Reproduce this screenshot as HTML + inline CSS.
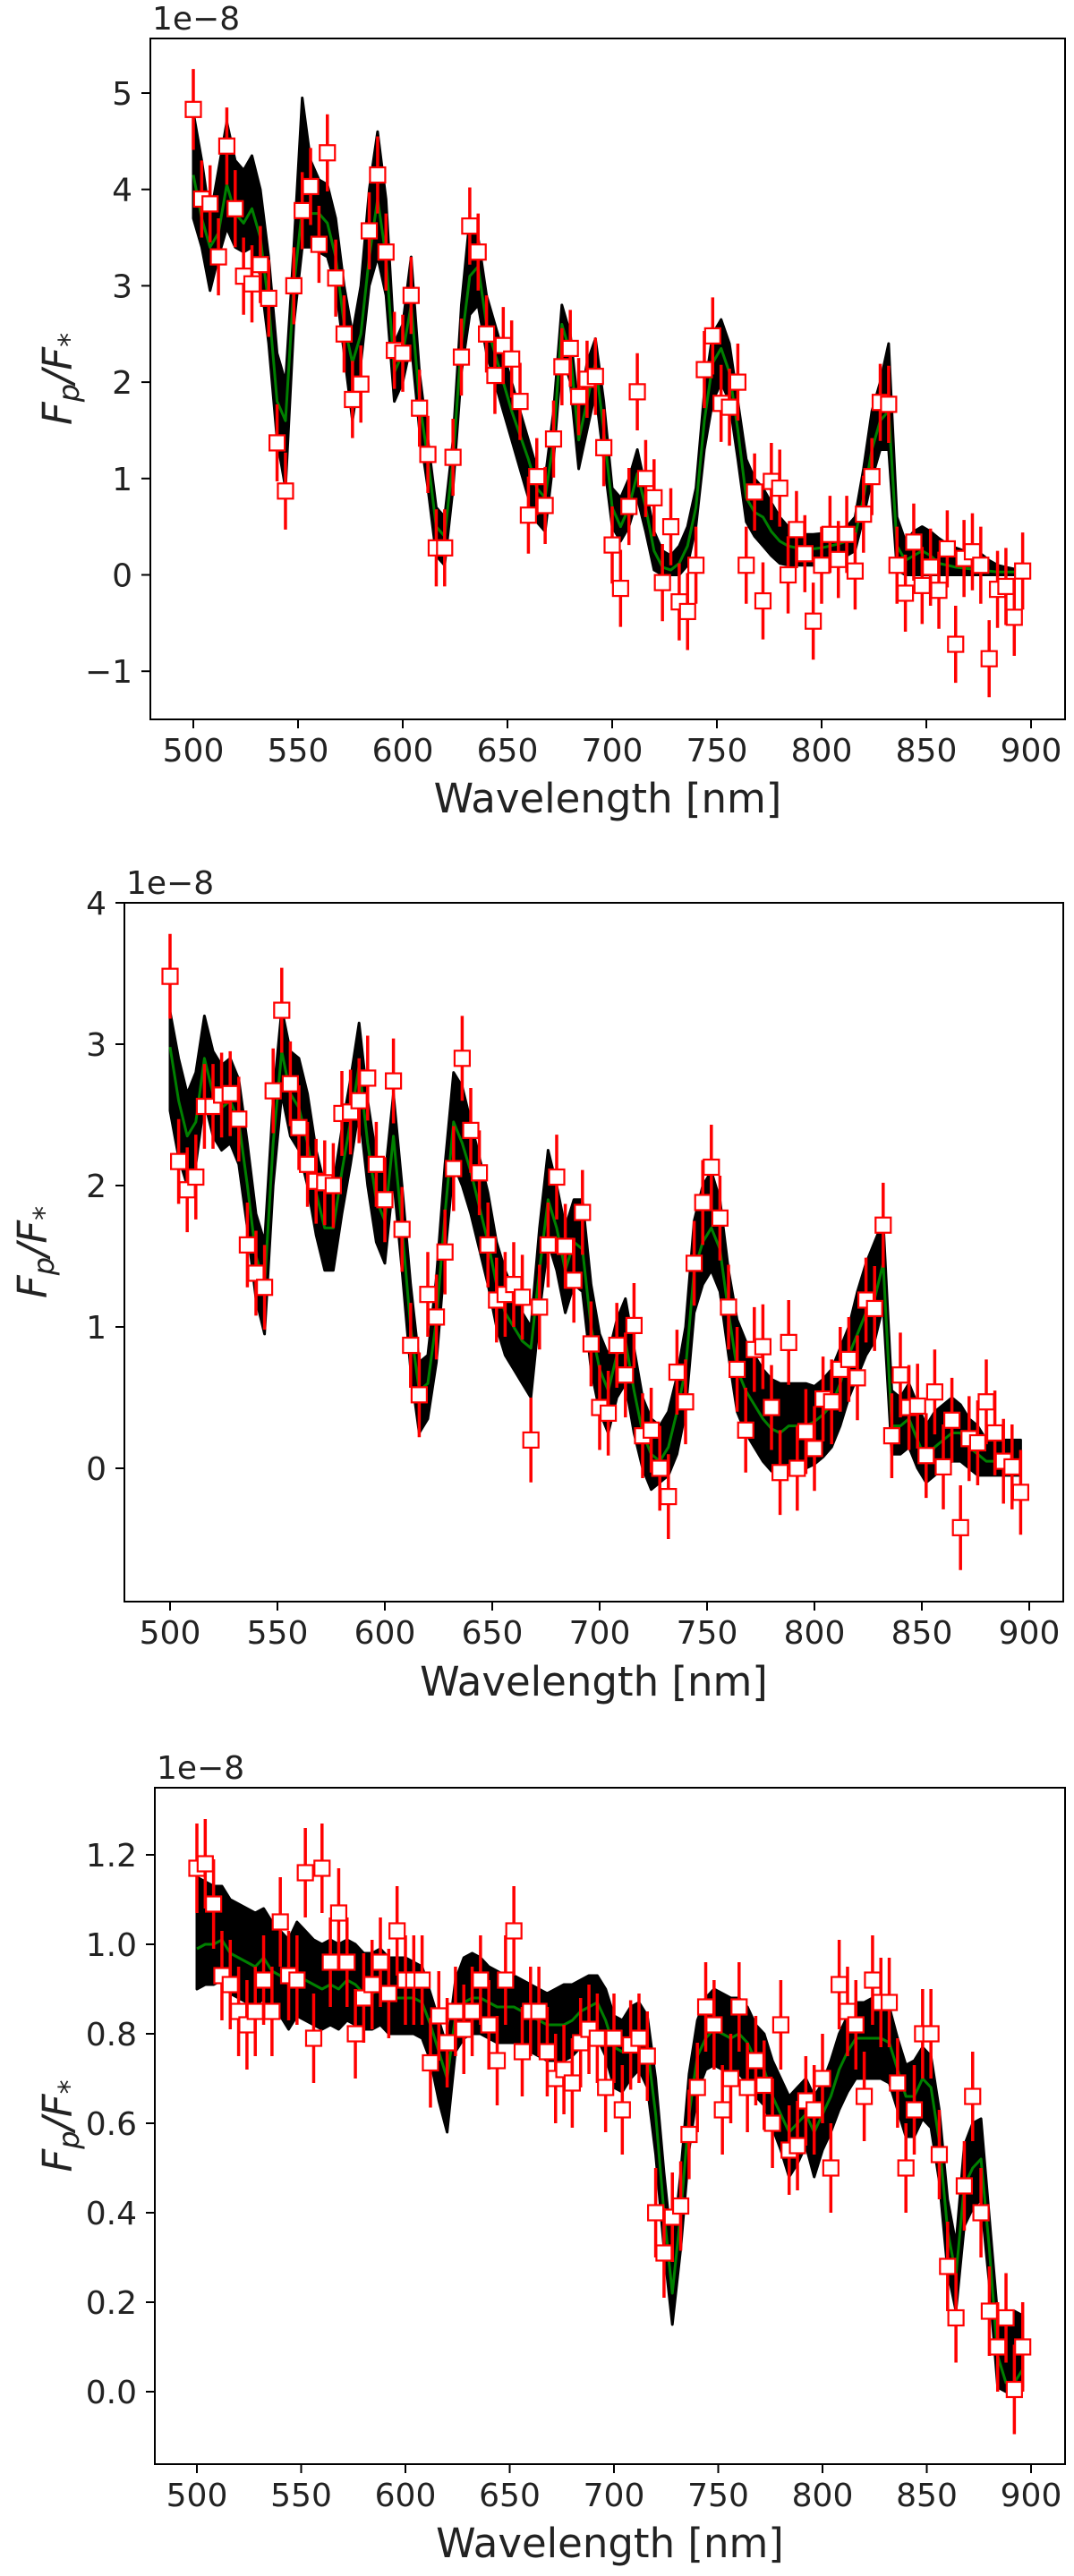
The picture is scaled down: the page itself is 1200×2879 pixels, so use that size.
<!DOCTYPE html>
<html><head><meta charset="utf-8"><title>Fp/F* spectra</title>
<style>
html,body{margin:0;padding:0;background:#fff;}
svg{display:block;font-family:"DejaVu Sans","Liberation Sans",sans-serif;}
</style></head>
<body>
<svg id="fig" width="1200" height="2879" viewBox="0 0 1200 2879" xmlns="http://www.w3.org/2000/svg"></svg>
<script>
const wl=[500,504,508,512,516,520,524,528,532,536,540,544,548,552,556,560,564,568,572,576,580,584,588,592,596,600,604,608,612,616,620,624,628,632,636,640,644,648,652,656,660,664,668,672,676,680,684,688,692,696,700,704,708,712,716,720,724,728,732,736,740,744,748,752,756,760,764,768,772,776,780,784,788,792,796,800,804,808,812,816,820,824,828,832,836,840,844,848,852,856,860,864,868,872,876,880,884,888,892,896];
const xTicks=[500,550,600,650,700,750,800,850,900];

// ---------- panel 1 ----------
const p1Flux=[4.83,3.9,3.85,3.3,4.45,3.8,3.1,3.02,3.22,2.87,1.37,0.87,3.0,3.78,4.03,3.43,4.38,3.08,2.5,1.82,1.98,3.57,4.15,3.35,2.33,2.3,2.9,1.73,1.25,0.28,0.28,1.22,2.26,3.62,3.35,2.5,2.07,2.38,2.24,1.8,0.62,1.02,0.72,1.41,2.16,2.35,1.85,2.03,2.06,1.32,0.31,-0.14,0.71,1.9,1.0,0.8,-0.08,0.5,-0.28,-0.38,0.1,2.13,2.48,1.78,1.74,2.0,0.1,0.86,-0.27,0.97,0.9,0.0,0.47,0.22,-0.48,0.1,0.42,0.16,0.42,0.04,0.63,1.02,1.79,1.77,0.1,-0.19,0.34,-0.11,0.08,-0.16,0.27,-0.72,0.17,0.24,0.1,-0.87,-0.15,-0.12,-0.44,0.04];
const p1Err=[0.42,0.4,0.4,0.4,0.4,0.4,0.4,0.4,0.4,0.4,0.4,0.4,0.4,0.4,0.4,0.4,0.4,0.4,0.4,0.4,0.4,0.4,0.4,0.4,0.4,0.4,0.4,0.4,0.4,0.4,0.4,0.4,0.4,0.4,0.4,0.4,0.4,0.4,0.4,0.4,0.4,0.4,0.4,0.4,0.4,0.4,0.4,0.4,0.4,0.4,0.4,0.4,0.4,0.4,0.4,0.4,0.4,0.4,0.4,0.4,0.4,0.4,0.4,0.4,0.4,0.4,0.4,0.4,0.4,0.4,0.4,0.4,0.4,0.4,0.4,0.4,0.4,0.4,0.4,0.4,0.4,0.4,0.4,0.4,0.4,0.4,0.4,0.4,0.4,0.4,0.4,0.4,0.4,0.4,0.4,0.4,0.4,0.4,0.4,0.4];
const p1Med=[4.15,3.7,3.4,3.55,4.05,3.75,3.65,3.8,3.5,2.8,1.8,1.6,3.0,3.8,3.75,3.75,3.65,3.3,2.6,2.2,2.5,3.3,3.9,3.3,2.1,2.3,2.8,1.8,1.2,0.5,0.4,1.2,2.4,3.1,3.2,2.6,2.3,2.0,1.7,1.45,1.2,0.9,0.8,1.4,2.6,2.3,1.4,1.8,2.2,1.5,0.7,0.5,0.7,1.05,0.7,0.25,0.08,0.05,0.12,0.3,0.7,1.6,2.2,2.35,2.1,1.5,0.8,0.65,0.6,0.45,0.35,0.3,0.28,0.27,0.27,0.28,0.3,0.32,0.35,0.4,0.8,1.3,1.6,1.7,0.3,0.15,0.2,0.25,0.2,0.12,0.1,0.08,0.07,0.06,0.05,0.04,0.03,0.03,0.03,0.03];
const p1Hi=[4.8,4.3,3.7,4.2,4.7,4.3,4.2,4.35,4.0,3.3,2.3,2.0,3.4,4.95,4.3,4.1,4.05,3.7,3.0,2.5,3.0,4.0,4.6,3.9,2.4,2.6,3.3,2.1,1.4,0.7,0.6,1.4,2.8,3.7,3.5,2.9,2.6,2.3,2.0,1.7,1.4,1.1,1.0,1.7,2.8,2.5,1.7,2.2,2.45,1.8,0.9,0.8,1.0,1.3,0.9,0.45,0.25,0.2,0.3,0.5,0.9,1.9,2.5,2.65,2.4,1.8,1.2,1.0,0.9,0.75,0.6,0.5,0.45,0.42,0.42,0.43,0.45,0.48,0.5,0.6,1.1,1.7,2.0,2.4,0.6,0.35,0.45,0.5,0.45,0.38,0.32,0.28,0.25,0.25,0.22,0.15,0.1,0.08,0.06,0.05];
const p1Lo=[3.7,3.4,2.95,3.3,3.6,3.4,3.35,3.4,3.1,2.4,1.4,0.9,2.6,3.4,3.4,3.35,3.3,3.0,2.3,1.6,2.2,3.0,3.3,2.9,1.8,2.0,2.4,1.5,0.9,0.2,0.1,0.9,2.1,2.7,2.8,2.3,2.0,1.7,1.4,1.1,0.8,0.55,0.45,1.2,2.3,2.0,1.1,1.5,1.9,1.2,0.5,0.35,0.5,0.8,0.45,0.05,0.0,0.0,0.0,0.1,0.5,1.3,1.8,2.0,1.8,1.2,0.55,0.4,0.3,0.2,0.12,0.1,0.1,0.1,0.1,0.12,0.15,0.17,0.2,0.25,0.6,1.0,1.3,1.3,0.05,0.0,0.0,0.0,0.0,0.0,0.0,0.0,0.0,0.0,0.0,0.0,0.0,0.0,0.0,0.0];
const p1YTicks=[-1,0,1,2,3,4,5];
const p1YTickLabels=["\u22121","0","1","2","3","4","5"];

// ---------- panel 2 ----------
const p2Flux=[3.48,2.17,1.97,2.06,2.56,2.56,2.64,2.65,2.47,1.58,1.38,1.28,2.67,3.24,2.72,2.41,2.15,2.03,2.02,2.0,2.51,2.52,2.6,2.76,2.15,1.9,2.74,1.69,0.87,0.52,1.23,1.07,1.53,2.12,2.9,2.39,2.09,1.58,1.19,1.23,1.3,1.21,0.2,1.14,1.58,2.06,1.57,1.33,1.81,0.88,0.43,0.39,0.87,0.66,1.01,0.23,0.27,0.0,-0.2,0.68,0.47,1.45,1.88,2.13,1.77,1.14,0.7,0.27,0.84,0.86,0.43,-0.03,0.89,0.0,0.26,0.14,0.49,0.47,0.7,0.77,0.64,1.19,1.13,1.72,0.23,0.66,0.43,0.44,0.09,0.54,0.01,0.34,-0.42,0.21,0.18,0.47,0.25,0.05,0.01,-0.17];
const p2Err=[0.3,0.3,0.3,0.3,0.3,0.3,0.3,0.3,0.3,0.3,0.3,0.3,0.3,0.3,0.3,0.3,0.3,0.3,0.3,0.3,0.3,0.3,0.3,0.3,0.3,0.3,0.3,0.3,0.3,0.3,0.3,0.3,0.3,0.3,0.3,0.3,0.3,0.3,0.3,0.3,0.3,0.3,0.3,0.3,0.3,0.3,0.3,0.3,0.3,0.3,0.3,0.3,0.3,0.3,0.3,0.3,0.3,0.3,0.3,0.3,0.3,0.3,0.3,0.3,0.3,0.3,0.3,0.3,0.3,0.3,0.3,0.3,0.3,0.3,0.3,0.3,0.3,0.3,0.3,0.3,0.3,0.3,0.3,0.3,0.3,0.3,0.3,0.3,0.3,0.3,0.3,0.3,0.3,0.3,0.3,0.3,0.3,0.3,0.3,0.3];
const p2Med=[2.98,2.6,2.35,2.45,2.9,2.65,2.55,2.6,2.45,2.0,1.5,1.3,2.3,2.95,2.65,2.55,2.3,1.95,1.7,1.7,2.1,2.45,2.85,2.3,1.9,1.75,2.35,1.7,1.0,0.55,0.6,1.05,1.8,2.45,2.3,2.1,1.85,1.6,1.3,1.1,1.0,0.9,0.85,1.4,1.9,1.7,1.4,1.6,1.55,1.0,0.7,0.55,0.8,0.9,0.55,0.25,0.1,0.05,0.15,0.4,0.7,1.4,1.6,1.7,1.55,1.1,0.7,0.55,0.45,0.35,0.28,0.25,0.3,0.3,0.3,0.33,0.38,0.45,0.6,0.8,0.95,1.1,1.2,1.45,0.3,0.3,0.35,0.2,0.05,0.15,0.2,0.25,0.25,0.15,0.1,0.05,0.05,0.05,0.05,0.05];
const p2Up=[0.25,0.3,0.3,0.35,0.3,0.3,0.3,0.3,0.3,0.3,0.3,0.3,0.3,0.3,0.3,0.35,0.35,0.3,0.3,0.3,0.3,0.3,0.3,0.3,0.3,0.3,0.3,0.3,0.3,0.2,0.2,0.3,0.35,0.35,0.4,0.35,0.35,0.35,0.3,0.3,0.25,0.2,0.15,0.3,0.35,0.3,0.3,0.3,0.35,0.3,0.25,0.25,0.25,0.3,0.3,0.25,0.25,0.25,0.25,0.25,0.3,0.35,0.4,0.4,0.35,0.3,0.35,0.35,0.35,0.35,0.35,0.35,0.3,0.3,0.3,0.25,0.25,0.25,0.25,0.2,0.3,0.35,0.4,0.3,0.25,0.2,0.25,0.25,0.25,0.25,0.25,0.25,0.2,0.2,0.2,0.15,0.15,0.15,0.15,0.15];
const p2Dn=[0.45,0.4,0.35,0.3,0.3,0.3,0.3,0.3,0.3,0.3,0.3,0.35,0.3,0.3,0.3,0.3,0.3,0.3,0.3,0.3,0.3,0.3,0.3,0.3,0.3,0.3,0.3,0.3,0.3,0.3,0.25,0.3,0.3,0.3,0.3,0.3,0.3,0.3,0.3,0.3,0.3,0.3,0.35,0.3,0.3,0.3,0.3,0.3,0.3,0.3,0.3,0.3,0.3,0.3,0.3,0.25,0.25,0.15,0.2,0.3,0.3,0.3,0.3,0.3,0.3,0.3,0.3,0.3,0.3,0.3,0.3,0.3,0.3,0.3,0.3,0.3,0.3,0.3,0.3,0.3,0.3,0.3,0.3,0.3,0.2,0.2,0.2,0.2,0.15,0.2,0.2,0.2,0.2,0.15,0.15,0.1,0.1,0.1,0.1,0.1];
const p2YTicks=[0,1,2,3,4];
const p2YTickLabels=["0","1","2","3","4"];

// ---------- panel 3 ----------
const p3Flux=[1.17,1.18,1.09,0.93,0.91,0.85,0.82,0.85,0.92,0.85,1.05,0.93,0.92,1.16,0.79,1.17,0.96,1.07,0.96,0.8,0.88,0.91,0.96,0.89,1.03,0.92,0.92,0.92,0.735,0.84,0.78,0.85,0.81,0.85,0.92,0.82,0.74,0.92,1.03,0.76,0.85,0.85,0.76,0.7,0.72,0.69,0.78,0.81,0.79,0.68,0.79,0.63,0.775,0.79,0.75,0.4,0.31,0.39,0.415,0.575,0.68,0.86,0.82,0.63,0.7,0.86,0.68,0.74,0.685,0.6,0.82,0.54,0.55,0.65,0.63,0.7,0.5,0.91,0.85,0.82,0.66,0.92,0.87,0.87,0.69,0.5,0.63,0.8,0.8,0.53,0.28,0.165,0.46,0.66,0.4,0.18,0.1,0.165,0.005,0.1];
const p3Err=[0.1,0.1,0.1,0.1,0.1,0.1,0.1,0.1,0.1,0.1,0.1,0.1,0.1,0.1,0.1,0.1,0.1,0.1,0.1,0.1,0.1,0.1,0.1,0.1,0.1,0.1,0.1,0.1,0.1,0.1,0.1,0.1,0.1,0.1,0.1,0.1,0.1,0.1,0.1,0.1,0.1,0.1,0.1,0.1,0.1,0.1,0.1,0.1,0.1,0.1,0.1,0.1,0.1,0.1,0.1,0.1,0.1,0.1,0.1,0.1,0.1,0.1,0.1,0.1,0.1,0.1,0.1,0.1,0.1,0.1,0.1,0.1,0.1,0.1,0.1,0.1,0.1,0.1,0.1,0.1,0.1,0.1,0.1,0.1,0.1,0.1,0.1,0.1,0.1,0.1,0.1,0.1,0.1,0.1,0.1,0.1,0.1,0.1,0.1,0.1];
const p3Med=[0.99,1.0,1.0,1.01,0.98,0.97,0.96,0.95,0.97,0.94,0.93,0.91,0.93,0.92,0.91,0.9,0.91,0.9,0.92,0.91,0.89,0.89,0.9,0.88,0.88,0.88,0.88,0.87,0.82,0.76,0.7,0.84,0.87,0.88,0.88,0.87,0.86,0.86,0.86,0.85,0.84,0.83,0.82,0.82,0.82,0.83,0.85,0.86,0.87,0.83,0.77,0.76,0.78,0.8,0.77,0.62,0.4,0.22,0.4,0.62,0.75,0.79,0.81,0.8,0.79,0.8,0.78,0.74,0.72,0.66,0.62,0.58,0.6,0.62,0.58,0.62,0.66,0.72,0.76,0.79,0.79,0.79,0.79,0.78,0.72,0.66,0.66,0.7,0.68,0.56,0.36,0.26,0.46,0.5,0.52,0.32,0.08,0.02,0.02,0.05];
const p3Up=[0.16,0.14,0.13,0.12,0.12,0.12,0.12,0.12,0.11,0.11,0.1,0.1,0.12,0.11,0.1,0.1,0.1,0.1,0.09,0.09,0.09,0.09,0.09,0.09,0.09,0.09,0.08,0.08,0.07,0.07,0.07,0.08,0.1,0.1,0.09,0.08,0.08,0.07,0.07,0.07,0.07,0.07,0.07,0.08,0.09,0.08,0.07,0.07,0.06,0.07,0.07,0.07,0.08,0.07,0.07,0.08,0.09,0.09,0.09,0.09,0.08,0.09,0.09,0.09,0.09,0.08,0.08,0.08,0.08,0.08,0.08,0.08,0.08,0.08,0.08,0.07,0.08,0.08,0.08,0.08,0.08,0.09,0.09,0.08,0.07,0.07,0.08,0.07,0.07,0.07,0.07,0.07,0.09,0.1,0.09,0.07,0.09,0.15,0.16,0.12];
const p3Dn=[0.09,0.09,0.09,0.09,0.09,0.09,0.09,0.09,0.09,0.09,0.09,0.1,0.09,0.09,0.09,0.09,0.09,0.09,0.09,0.09,0.08,0.08,0.08,0.08,0.08,0.08,0.08,0.08,0.08,0.11,0.12,0.08,0.08,0.08,0.08,0.08,0.08,0.08,0.08,0.08,0.08,0.08,0.08,0.08,0.08,0.08,0.08,0.08,0.08,0.08,0.09,0.09,0.08,0.08,0.09,0.09,0.08,0.07,0.08,0.08,0.08,0.07,0.08,0.08,0.08,0.09,0.09,0.08,0.08,0.07,0.08,0.1,0.09,0.07,0.1,0.08,0.08,0.09,0.09,0.09,0.09,0.09,0.09,0.09,0.09,0.09,0.09,0.09,0.09,0.09,0.09,0.08,0.09,0.09,0.09,0.08,0.07,0.02,0.02,0.04];
const p3YTicks=[0,0.2,0.4,0.6,0.8,1.0,1.2];
const p3YTickLabels=["0.0","0.2","0.4","0.6","0.8","1.0","1.2"];

const NS="http://www.w3.org/2000/svg";
const svg=document.getElementById('fig');
function mk(tag,attrs,parent){const e=document.createElementNS(NS,tag);for(const k in attrs)e.setAttribute(k,attrs[k]);(parent||svg).appendChild(e);return e;}

function drawPanel(id,g,flux,err,med,hi,lo,yTicks,yLabels){
  const grp=mk('g',{});
  
  
  const X=v=>g.x500+(v-500)*g.pxnm;
  const Y=v=>g.y0-v*g.pxu;
  let pts=[];
  for(let i=0;i<wl.length;i++)pts.push(X(wl[i]).toFixed(1)+','+Y(hi[i]).toFixed(1));
  for(let i=wl.length-1;i>=0;i--)pts.push(X(wl[i]).toFixed(1)+','+Y(lo[i]).toFixed(1));
  const band=mk('polygon',{points:pts.join(' '),fill:'#000',stroke:'#000','stroke-width':3,'stroke-linejoin':'round'},grp);
  
  
  const mp=wl.map((w,i)=>X(w).toFixed(1)+','+Y(med[i]).toFixed(1)).join(' ');
  const ml=mk('polyline',{points:mp,fill:'none',stroke:'#008000','stroke-width':3,'stroke-linejoin':'round'},grp);
  
  
  for(let i=0;i<wl.length;i++){
    const eb=mk('line',{x1:X(wl[i]),x2:X(wl[i]),y1:Y(flux[i]-err[i]),y2:Y(flux[i]+err[i]),stroke:'#ff0000','stroke-width':3.5},grp);
    
    
  }
  for(let i=0;i<wl.length;i++){
    const m=mk('rect',{x:X(wl[i])-8.5,y:Y(flux[i])-8.5,width:17,height:17,fill:'#fff',stroke:'#ff0000','stroke-width':2.2},grp);
    
    
  }
  const fr=mk('rect',{x:g.L,y:g.T,width:g.R-g.L,height:g.B-g.T,fill:'none',stroke:'#000','stroke-width':2},grp);
  
  
  xTicks.forEach(t=>{
    const x=X(t);
    mk('line',{x1:x,x2:x,y1:g.B,y2:g.B+10,stroke:'#000','stroke-width':2},grp);
    const tx=mk('text',{x:x,y:g.B+47,'font-size':36,'text-anchor':'middle',fill:'#222'},grp);
    tx.textContent=String(t);
    
    
  });
  yTicks.forEach((t,k)=>{
    const y=Y(t);
    mk('line',{x1:g.L-10,x2:g.L,y1:y,y2:y,stroke:'#000','stroke-width':2},grp);
    const ty=mk('text',{x:g.L-20,y:y+13,'font-size':36,'text-anchor':'end',fill:'#222'},grp);
    ty.textContent=yLabels[k];
    
    
  });
  const off=mk('text',{x:g.L+2,y:g.T-10,'font-size':36,fill:'#222'},grp);
  off.textContent='1e\u22128';
  
  
  const xl=mk('text',{x:(g.L+g.R)/2,y:g.xlab,'font-size':45,'text-anchor':'middle',fill:'#222'},grp);
  xl.textContent='Wavelength [nm]';
  
  
  const cy=(g.T+g.B)/2;
  const yl=mk('text',{x:g.ylx,y:cy,'font-size':45,'text-anchor':'middle','font-style':'italic',fill:'#222',transform:'rotate(-90 '+g.ylx+' '+cy+')'},grp);
  
  
  yl.innerHTML='F<tspan font-size="32" dy="8">p</tspan><tspan dy="-8">/F</tspan><tspan font-size="32" dy="8">*</tspan>';
}

drawPanel('panel-1',{L:168,R:1190,T:43,B:804,x500:216,pxnm:2.34,y0:642.5,pxu:107.7,xlab:908,ylx:80},
  p1Flux,p1Err,p1Med,p1Hi,p1Lo,p1YTicks,p1YTickLabels);
drawPanel('panel-2',{L:139,R:1188,T:1009,B:1790,x500:190,pxnm:2.4,y0:1641,pxu:158,xlab:1895,ylx:52},
  p2Flux,p2Err,p2Med,p2Med.map((v,i)=>v+p2Up[i]),p2Med.map((v,i)=>v-p2Dn[i]),p2YTicks,p2YTickLabels);
drawPanel('panel-3',{L:173,R:1190,T:1998,B:2754,x500:220,pxnm:2.33,y0:2673,pxu:500,xlab:2858,ylx:80},
  p3Flux,p3Err,p3Med,p3Med.map((v,i)=>v+p3Up[i]),p3Med.map((v,i)=>v-p3Dn[i]),p3YTicks,p3YTickLabels);
</script>
</body></html>
